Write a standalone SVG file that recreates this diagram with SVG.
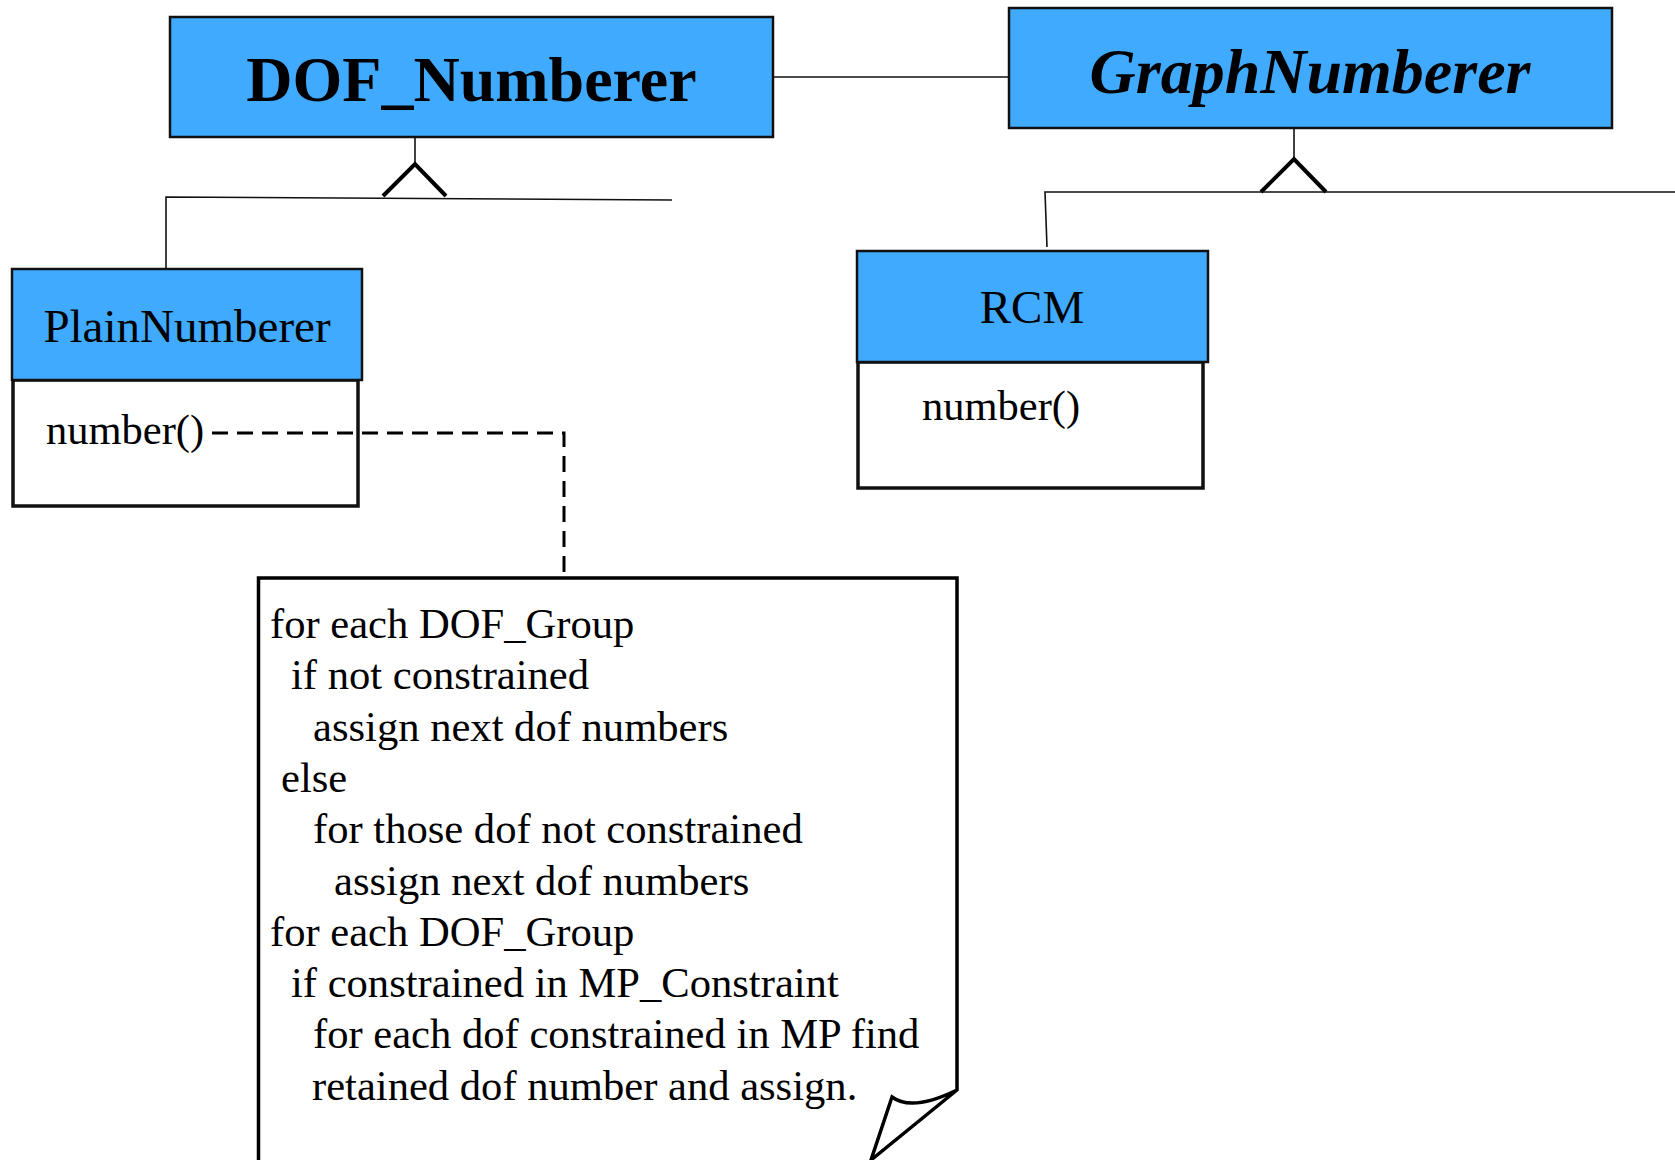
<svg xmlns="http://www.w3.org/2000/svg" width="1675" height="1160" viewBox="0 0 1675 1160">
<style>
  .cls { fill: #40AAFF; stroke: #111; stroke-width: 2.5; }
  .body { fill: #fff; stroke: #111; stroke-width: 3.5; }
  .t { font-family: "Liberation Serif", "Times New Roman", serif; fill: #000; }
  .title { font-size: 64px; font-weight: bold; text-anchor: middle; }
  .name { font-size: 47px; text-anchor: middle; }
  .op { font-size: 42.5px; }
  .note { font-size: 42.6px; }
  .conn { fill: none; stroke: #111; stroke-width: 1.6; }
  .tri { fill: none; stroke: #000; stroke-width: 4; stroke-linejoin: miter; }
  .dash { fill: none; stroke: #000; stroke-width: 3; stroke-dasharray: 16 9; }
</style>
<rect width="1675" height="1160" fill="#fff"/>
<g id="DOF_Numberer">
  <rect class="cls" x="170" y="17" width="603" height="120"/>
  <text class="t title" x="471.5" y="101">DOF_Numberer</text>
</g>
<g id="GraphNumberer">
  <rect class="cls" x="1009" y="8" width="603" height="120"/>
  <text class="t title" x="1310" y="93" font-style="italic">GraphNumberer</text>
</g>
<g id="PlainNumberer">
  <rect class="body" x="13" y="380" width="345" height="126"/>
  <rect class="cls" x="12" y="269" width="350" height="111"/>
  <text class="t name" x="187" y="342">PlainNumberer</text>
  <text class="t op" x="46" y="444">number()</text>
</g>
<g id="RCM">
  <rect class="body" x="858" y="362" width="345" height="126"/>
  <rect class="cls" x="857" y="251" width="351" height="111"/>
  <text class="t name" x="1032" y="323">RCM</text>
  <text class="t op" x="922" y="420">number()</text>
</g>
<g id="connectors">
  <line class="conn" x1="774" y1="77" x2="1009" y2="77"/>
  <line class="conn" x1="415" y1="137" x2="415" y2="164"/>
  <polyline class="tri" points="383,196 415,164 446,196"/>
  <polyline class="conn" points="166,268 166,197 672,200"/>
  <line class="conn" x1="1294" y1="128" x2="1294" y2="159"/>
  <polyline class="tri" points="1261,192 1294,159 1326,192"/>
  <polyline class="conn" points="1047,247 1045,192 1675,192"/>
  <polyline class="dash" points="212,433 564,433 564,578"/>
</g>
<g id="note">
  <path d="M258.5,1160 L258.5,578 L957,578 L957,1090 Q912,1112 892,1097 L871,1160 L957,1090" fill="#fff" stroke="#000" stroke-width="3.5" stroke-linejoin="miter"/>
  <text class="t note" x="270" y="638">for each DOF_Group</text>
  <text class="t note" x="291" y="689.3">if not constrained</text>
  <text class="t note" x="313" y="740.6">assign next dof numbers</text>
  <text class="t note" x="281" y="791.9">else</text>
  <text class="t note" x="313" y="843.2">for those dof not constrained</text>
  <text class="t note" x="334" y="894.5">assign next dof numbers</text>
  <text class="t note" x="270" y="945.8">for each DOF_Group</text>
  <text class="t note" x="291" y="997.1">if constrained in MP_Constraint</text>
  <text class="t note" x="313" y="1048.4">for each dof constrained in MP find</text>
  <text class="t note" x="312" y="1099.7">retained dof number and assign.</text>
</g>
</svg>
